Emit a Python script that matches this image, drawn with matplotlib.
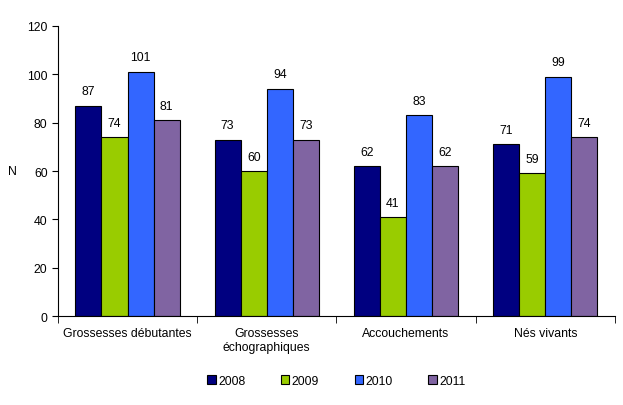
import matplotlib
matplotlib.use("Agg")
import matplotlib.pyplot as plt
import numpy as np

categories = ["Grossesses débutantes", "Grossesses\néchographiques", "Accouchements", "Nés vivants"]
years = ["2008", "2009", "2010", "2011"]
values = {
    "2008": [87, 73, 62, 71],
    "2009": [74, 60, 41, 59],
    "2010": [101, 94, 83, 99],
    "2011": [81, 73, 62, 74],
}
colors = ["#000080", "#99CC00", "#3366FF", "#8064A2"]

plt.rcParams["font.family"] = ["Liberation Sans", "DejaVu Sans"]
fs = 8.8
fig = plt.figure(figsize=(6.23, 4.06), dpi=100)
ax = fig.add_axes([0.093, 0.219, 0.894, 0.7145])

x = np.arange(len(categories))
w = 0.1875
for i, y in enumerate(years):
    pos = x + (i - 1.5) * w
    ax.bar(pos, values[y], width=w, color=colors[i], edgecolor="black", linewidth=0.8, label=y)
    for p, v in zip(pos, values[y]):
        ax.text(p, v + 3.5, str(v), ha="center", va="bottom", fontsize=fs)

ax.set_xlim(-0.5, len(categories) - 0.5)
ax.set_ylim(0, 120)
ax.set_yticks(range(0, 121, 20))
ax.set_xticks(x)
ax.set_xticklabels(categories, fontsize=fs)
ax.tick_params(axis="x", length=0, pad=8)
ax.set_xticks(np.arange(-0.5, len(categories), 1), minor=True)
ax.tick_params(axis="x", which="minor", length=5, direction="out")
ax.tick_params(axis="y", labelsize=fs, length=4, direction="out")
ax.spines["top"].set_visible(False)
ax.spines["right"].set_visible(False)
ax.set_ylabel("N", rotation=0, fontsize=fs, va="center", ha="center")
ax.yaxis.set_label_coords(-0.082, 0.5)

handles, labels = ax.get_legend_handles_labels()
fig.legend(handles, labels, loc="center", bbox_to_anchor=(0.54, 0.06), ncol=4, frameon=False,
           fontsize=fs, handlelength=0.7, handleheight=0.7, handletextpad=0.2, columnspacing=2.9)

fig.savefig("out.png", dpi=100)
